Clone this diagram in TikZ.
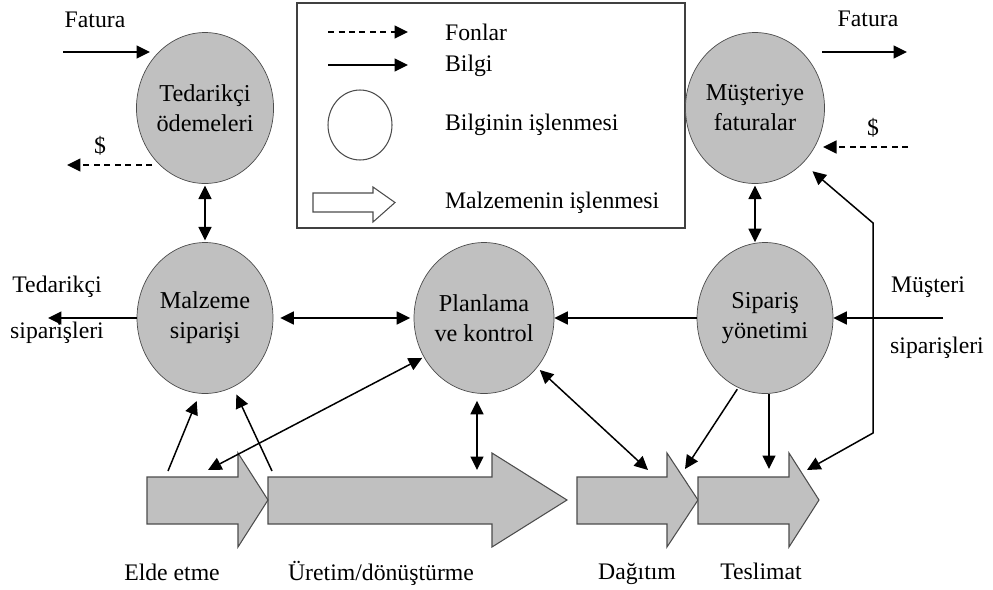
\documentclass[tikz,border=0pt]{standalone}
\usepackage{fontspec}
\setmainfont{Liberation Serif}
\usetikzlibrary{arrows.meta}
\usetikzlibrary{shapes.geometric}

\definecolor{procgray}{RGB}{192,192,192}

% one grey block arrow of the material flow: left end, head start, tip
\newcommand{\flowblock}[3]{%
  \draw[flow] (#1,477) -- (#2,477) -- (#2,453) -- (#3,500) -- (#2,547) -- (#2,524) -- (#1,524) -- cycle;}

\begin{document}
\begin{tikzpicture}[x=0.02cm, y=-0.02cm,
        >={Triangle[length=2.7mm,width=2.6mm]},
        proc/.style={ellipse, draw=black!70, fill=procgray, inner sep=0pt,
                     minimum width=2.72cm, minimum height=3.02cm, align=center,
                     font=\fontsize{13.8}{17}\selectfont},
        lbl/.style={font=\fontsize{13.5}{16}\selectfont, inner sep=1pt},
        info/.style={->, line width=0.85pt},
        fund/.style={info, dash pattern=on 1.2mm off 0.9mm},
        flow/.style={draw=black!70, fill=procgray, line width=0.6pt}
                            ]
        \useasboundingbox (0,0) rectangle (993,589);
        % legend
        \node[draw=black!75, line width=0.8pt, minimum width=7.76cm, minimum height=4.5cm,
              inner sep=0pt] (legend) at (491,115.5) {};
        \coordinate (lf1) at (328,32);  \coordinate (lf2) at (408,32);
        \coordinate (lb1) at (328,65);  \coordinate (lb2) at (408,65);
        \draw[fund] (lf1) -- (lf2);
        \draw[info] (lb1) -- (lb2);
        \node[ellipse, draw=black!70, fill=white, line width=0.6pt, inner sep=0pt,
              minimum width=1.28cm, minimum height=1.4cm] (legcirc) at (360,125) {};
        \draw[flow, fill=white] (313,193) -- (373,193) -- (373,187) -- (395,202.5)
              -- (373,222) -- (373,212) -- (313,212) -- cycle;
        \node[lbl, anchor=west] (legfon) at (443,32) {Fonlar};
        \node[lbl, anchor=west] (legbil) at (443,66) {Bilgi};
        \node[lbl, anchor=west] (legisl) at (443,125) {Bilginin işlenmesi};
        \node[lbl, anchor=west] (legmal) at (443,203) {Malzemenin işlenmesi};
        %
        % information processing
        \node[proc] (ted)  at (205,108) {Tedarikçi\\ödemeleri};
        \node[proc] (mus)  at (755,108) {Müşteriye\\faturalar};
        \node[proc] (mal)  at (205,318) {Malzeme\\siparişi};
        \node[proc] (plan) at (484,318) {Planlama\\ve kontrol};
        \node[proc] (sip)  at (765,318) {Sipariş\\yönetimi};
        %
        % material flow
        \flowblock{268}{492}{567}
        \flowblock{147}{238}{268}
        \flowblock{577}{667}{698}
        \flowblock{698}{789}{819}
        \node[lbl, anchor=base] (elde)  at (172,580) {Elde etme};
        \node[lbl, anchor=base] (uret)  at (381,580) {Üretim/dönüştürme};
        \node[lbl, anchor=base] (dagit) at (637,579) {Dağıtım};
        \node[lbl, anchor=base] (tesl)  at (761,579) {Teslimat};
        %
        % outside labels
        \node[lbl] (fatL) at (95,20) {Fatura};
        \node[lbl] (dolL) at (100,146) {\$};
        \node[lbl] (fatR) at (868,19) {Fatura};
        \node[lbl] (dolR) at (873,128) {\$};
        \node[lbl] (tsip1) at (57,287) {Tedarikçi};
        \node[lbl] (tsip2) at (57,333) {siparişleri};
        \node[lbl] (msip1) at (928,287) {Müşteri};
        \node[lbl] (msip2) at (937,348) {siparişleri};
        %
        % free ends
        \coordinate (tfat1) at (63,52);   \coordinate (tfat2) at (150,52);
        \coordinate (tdol1) at (152,165); \coordinate (tdol2) at (67,165);
        \coordinate (mfat1) at (822,52);  \coordinate (mfat2) at (907,52);
        \coordinate (mdol1) at (908,147); \coordinate (mdol2) at (823,147);
        \coordinate (tsipE) at (48,318);
        \coordinate (msipE) at (943,318);
        \coordinate (eldeA) at (168,471);
        \coordinate (uretA) at (272,471);
        \coordinate (eldeB) at (208,470);
        \coordinate (uretB) at (477,470);
        \coordinate (dagA)  at (648,470);
        \coordinate (dagB)  at (685,469);
        \coordinate (tesA)  at (769,469);
        \coordinate (tesB)  at (807,470);
        \coordinate (bendlo) at (873,433);
        \coordinate (bendhi) at (873,223);
        %
        \draw[info] (tfat1) -- (tfat2);
        \draw[fund] (tdol1) -- (tdol2);
        \draw[info] (mfat1) -- (mfat2);
        \draw[fund] (mdol1) -- (mdol2);
        \draw[info, <->, shorten <=1pt, shorten >=1pt] (ted.south) -- (mal.north);
        \draw[info, <->, shorten <=1pt] (mus.south) -- (mus.south |- sip.north);
        \draw[info] (mal.west) -- (tsipE);
        \draw[info] (msipE) -- (sip.east);
        \draw[info, <->, shorten <=4pt, shorten >=2pt] (mal.east) -- (plan.west);
        \draw[info] (sip.west) -- (plan.east);
        \draw[info, shorten >=1.6mm] (eldeA) -- (mal.266);
        \draw[info, shorten >=1.6mm] (uretA) -- (mal.292);
        \draw[info, <->, shorten <=1pt] (plan.213) -- (eldeB);
        \draw[info, <->, shorten <=4pt] (uretB |- plan.south) -- (uretB);
        \draw[info, <->, shorten <=2pt] (plan.317) -- (dagA);
        \draw[info, shorten <=1pt] (sip.249) -- (dagB);
        \draw[info] (tesA |- sip.south) -- (tesA);
        \draw[info, <->, shorten >=2.5mm] (tesB) -- (bendlo) -- (bendhi) -- (mus.311);
\end{tikzpicture}
\end{document}
